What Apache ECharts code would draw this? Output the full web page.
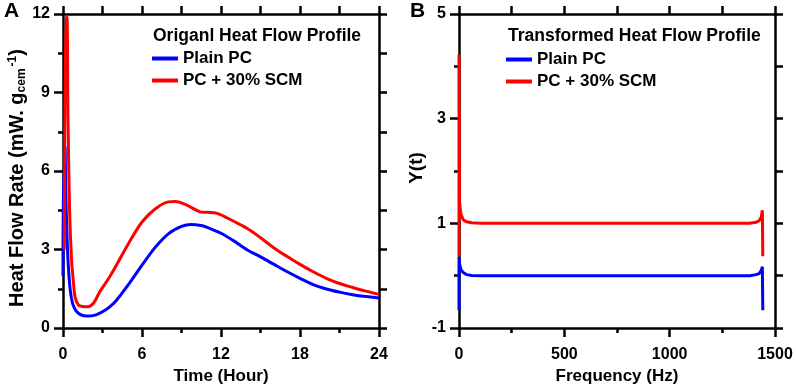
<!DOCTYPE html>
<html>
<head>
<meta charset="utf-8">
<script src="https://cdn.jsdelivr.net/npm/echarts@6/dist/echarts.min.js"></script>
<style>
  html, body { margin: 0; padding: 0; background: #fff; }
  #chart { width: 796px; height: 385px; }
</style>
</head>
<body>
<div id="chart"></div>
<script>
// panel A - original heat flow (time in hours)
const hoursPlain = [0, 0.03, 0.1, 0.15, 0.22, 0.3, 0.4, 0.55, 0.7, 0.85, 1.05, 1.3, 1.6, 2.05, 2.5, 3, 3.5, 4, 5, 6, 7, 8, 9, 9.7, 10.5, 11, 12, 13, 14, 15, 16, 17, 18, 19, 20, 21, 22, 23, 24]
const flowPlain = [2.0, 6.0, 6.0, 6.95, 5.0, 3.6, 2.4, 1.45, 1.0, 0.78, 0.62, 0.52, 0.47, 0.46, 0.5, 0.62, 0.79, 1.02, 1.68, 2.4, 3.08, 3.6, 3.88, 3.96, 3.92, 3.84, 3.62, 3.32, 2.98, 2.72, 2.44, 2.16, 1.9, 1.66, 1.49, 1.37, 1.27, 1.2, 1.15]
const hoursSCM = [0.1, 0.2, 0.3, 0.38, 0.5, 0.65, 0.78, 0.91, 1.17, 1.5, 1.8, 2.3, 2.8, 3.5, 4, 5, 6, 7, 8, 8.5, 9.4, 10.4, 10.9, 11.7, 12.5, 13, 14, 15, 16, 17, 18, 19, 20, 21, 22, 23, 24]
const flowSCM = [3.0, 11.9, 11.9, 8, 4.5, 2.6, 1.83, 1.2, 0.88, 0.82, 0.81, 0.94, 1.39, 1.92, 2.35, 3.25, 4.05, 4.55, 4.82, 4.83, 4.7, 4.44, 4.42, 4.38, 4.2, 4.07, 3.8, 3.45, 3.07, 2.74, 2.43, 2.15, 1.9, 1.7, 1.55, 1.41, 1.29]

// panel B - transformed profile
const freq = [0, 0, 2, 5, 10, 20, 35, 60, 100, 1380, 1410, 1425, 1435, 1440, 1442]
const yPlain = [-0.66, 0.36, 0.25, 0.18, 0.11, 0.06, 0.02, 0.005, 0, 0, 0.02, 0.04, 0.1, 0.17, -0.66]
const ySCM = [0.37, 4.22, 1.45, 1.3, 1.16, 1.07, 1.03, 1.01, 1.0, 1.0, 1.02, 1.05, 1.12, 1.25, 0.37]

const FONT = "'Liberation Sans', Arial, sans-serif"
const BLUE = '#0000ff'
const RED = '#ff0000'

const pairs = (xs, ys) => xs.map((x, i) => [x, ys[i]])

function boxAxis(opts) {
  // common styling for the framed axes
  return Object.assign({
    type: 'value',
    splitLine: { show: false },
    axisLine: { show: true, onZero: false, lineStyle: { color: '#000', width: 2.5 } },
    axisTick: { show: true, inside: false, length: 9, lineStyle: { color: '#000', width: 2.5 } },
    minorTick: { show: false },
    axisLabel: { show: false },
    nameTextStyle: { color: '#000', fontFamily: FONT, fontWeight: 'bold', fontSize: 17 }
  }, opts)
}

const labelStyle = { show: true, color: '#000', fontFamily: FONT, fontWeight: 'bold', fontSize: 16, formatter: v => String(v) }
const minor = { show: true, splitNumber: 2, length: 5, lineStyle: { color: '#000', width: 2.5 } }
const sideTick = { show: true, inside: false, length: 8, lineStyle: { color: '#000', width: 2.5 } }
const textBold = size => ({ fontFamily: FONT, fontWeight: 'bold', fontSize: size, color: '#000' })

const chart = echarts.init(document.getElementById('chart'))

const option = {
  animation: false,
  backgroundColor: '#fff',
  title: [
    { text: 'A', left: 4, top: 1, padding: 0, textStyle: textBold(21) },
    { text: 'B', left: 410, top: 1, padding: 0, textStyle: textBold(21) },
    { text: 'Origanl Heat Flow Profile', left: 153, top: 27, padding: 0, textStyle: textBold(17.5) },
    { text: 'Transformed Heat Flow Profile', left: 508, top: 27, padding: 0, textStyle: textBold(17.5) }
  ],
  graphic: [
    {
      type: 'text', x: 17, y: 178, rotation: Math.PI / 2,
      style: {
        text: 'Heat Flow Rate (mW. g{sub|cem}{sup|-1})',
        align: 'center', verticalAlign: 'middle',
        fontFamily: FONT, fontWeight: 'bold', fontSize: 20, fill: '#000',
        rich: {
          sub: { fontFamily: FONT, fontWeight: 'bold', fontSize: 12, fill: '#000', verticalAlign: 'bottom', padding: [9, 0, 0, 0] },
          sup: { fontFamily: FONT, fontWeight: 'bold', fontSize: 12, fill: '#000', verticalAlign: 'top', padding: [0, 0, 9, 2] }
        }
      }
    },
    {
      type: 'text', x: 417, y: 168, rotation: Math.PI / 2,
      style: { text: 'Y(t)', align: 'center', verticalAlign: 'middle', fontFamily: FONT, fontWeight: 'bold', fontSize: 19, fill: '#000' }
    }
  ],
  legend: [
    {
      left: 152, top: 50, orient: 'vertical', padding: 0, itemGap: 5,
      itemWidth: 26, itemHeight: 4, icon: 'rect',
      data: ['Plain PC', 'PC + 30% SCM'],
      textStyle: textBold(17)
    },
    {
      left: 506, top: 51, orient: 'vertical', padding: 0, itemGap: 5,
      itemWidth: 26, itemHeight: 4, icon: 'rect',
      data: ['Plain PC', 'PC + 30% SCM'],
      textStyle: textBold(17)
    }
  ],
  grid: [
    { left: 63, top: 14, width: 316, height: 314, containLabel: false, outerBoundsMode: 'none' },
    { left: 459, top: 14, width: 316, height: 314, containLabel: false, outerBoundsMode: 'none' }
  ],
  xAxis: [
    boxAxis({
      gridIndex: 0, position: 'bottom', min: 0, max: 24, interval: 6,
      minorTick: minor,
      axisLabel: Object.assign({ margin: 19 }, labelStyle),
      name: 'Time (Hour)', nameLocation: 'middle', nameGap: 37
    }),
    boxAxis({ gridIndex: 0, position: 'top', min: 0, max: 24, interval: 3, axisTick: sideTick }),
    boxAxis({
      gridIndex: 1, position: 'bottom', min: 0, max: 1500, interval: 500,
      minorTick: minor,
      axisLabel: Object.assign({ margin: 19 }, labelStyle),
      name: 'Frequency (Hz)', nameLocation: 'middle', nameGap: 37
    }),
    boxAxis({ gridIndex: 1, position: 'top', min: 0, max: 1500, interval: 250, axisTick: sideTick })
  ],
  yAxis: [
    boxAxis({
      gridIndex: 0, position: 'left', min: 0, max: 12, interval: 3,
      minorTick: minor,
      axisLabel: Object.assign({ margin: 13 }, labelStyle)
    }),
    boxAxis({ gridIndex: 0, position: 'right', min: 0, max: 12, interval: 1.5, axisTick: sideTick }),
    boxAxis({
      gridIndex: 1, position: 'left', min: -1, max: 5, interval: 2,
      minorTick: minor,
      axisLabel: Object.assign({ margin: 13 }, labelStyle)
    }),
    boxAxis({ gridIndex: 1, position: 'right', min: -1, max: 5, interval: 1, axisTick: sideTick })
  ],
  series: [
    {
      name: 'Plain PC', type: 'line', xAxisIndex: 0, yAxisIndex: 0,
      data: pairs(hoursPlain, flowPlain), showSymbol: false, smooth: 0.3,
      lineStyle: { color: BLUE, width: 3 }, itemStyle: { color: BLUE }
    },
    {
      name: 'PC + 30% SCM', type: 'line', xAxisIndex: 0, yAxisIndex: 0,
      data: pairs(hoursSCM, flowSCM), showSymbol: false, smooth: 0.3,
      lineStyle: { color: RED, width: 3 }, itemStyle: { color: RED }
    },
    {
      name: 'Plain PC', type: 'line', xAxisIndex: 2, yAxisIndex: 2,
      data: pairs(freq, yPlain), showSymbol: false, smooth: false,
      lineStyle: { color: BLUE, width: 3 }, itemStyle: { color: BLUE }
    },
    {
      name: 'PC + 30% SCM', type: 'line', xAxisIndex: 2, yAxisIndex: 2,
      data: pairs(freq, ySCM), showSymbol: false, smooth: false,
      lineStyle: { color: RED, width: 3 }, itemStyle: { color: RED }
    }
  ]
}

chart.setOption(option)
</script>
</body>
</html>
